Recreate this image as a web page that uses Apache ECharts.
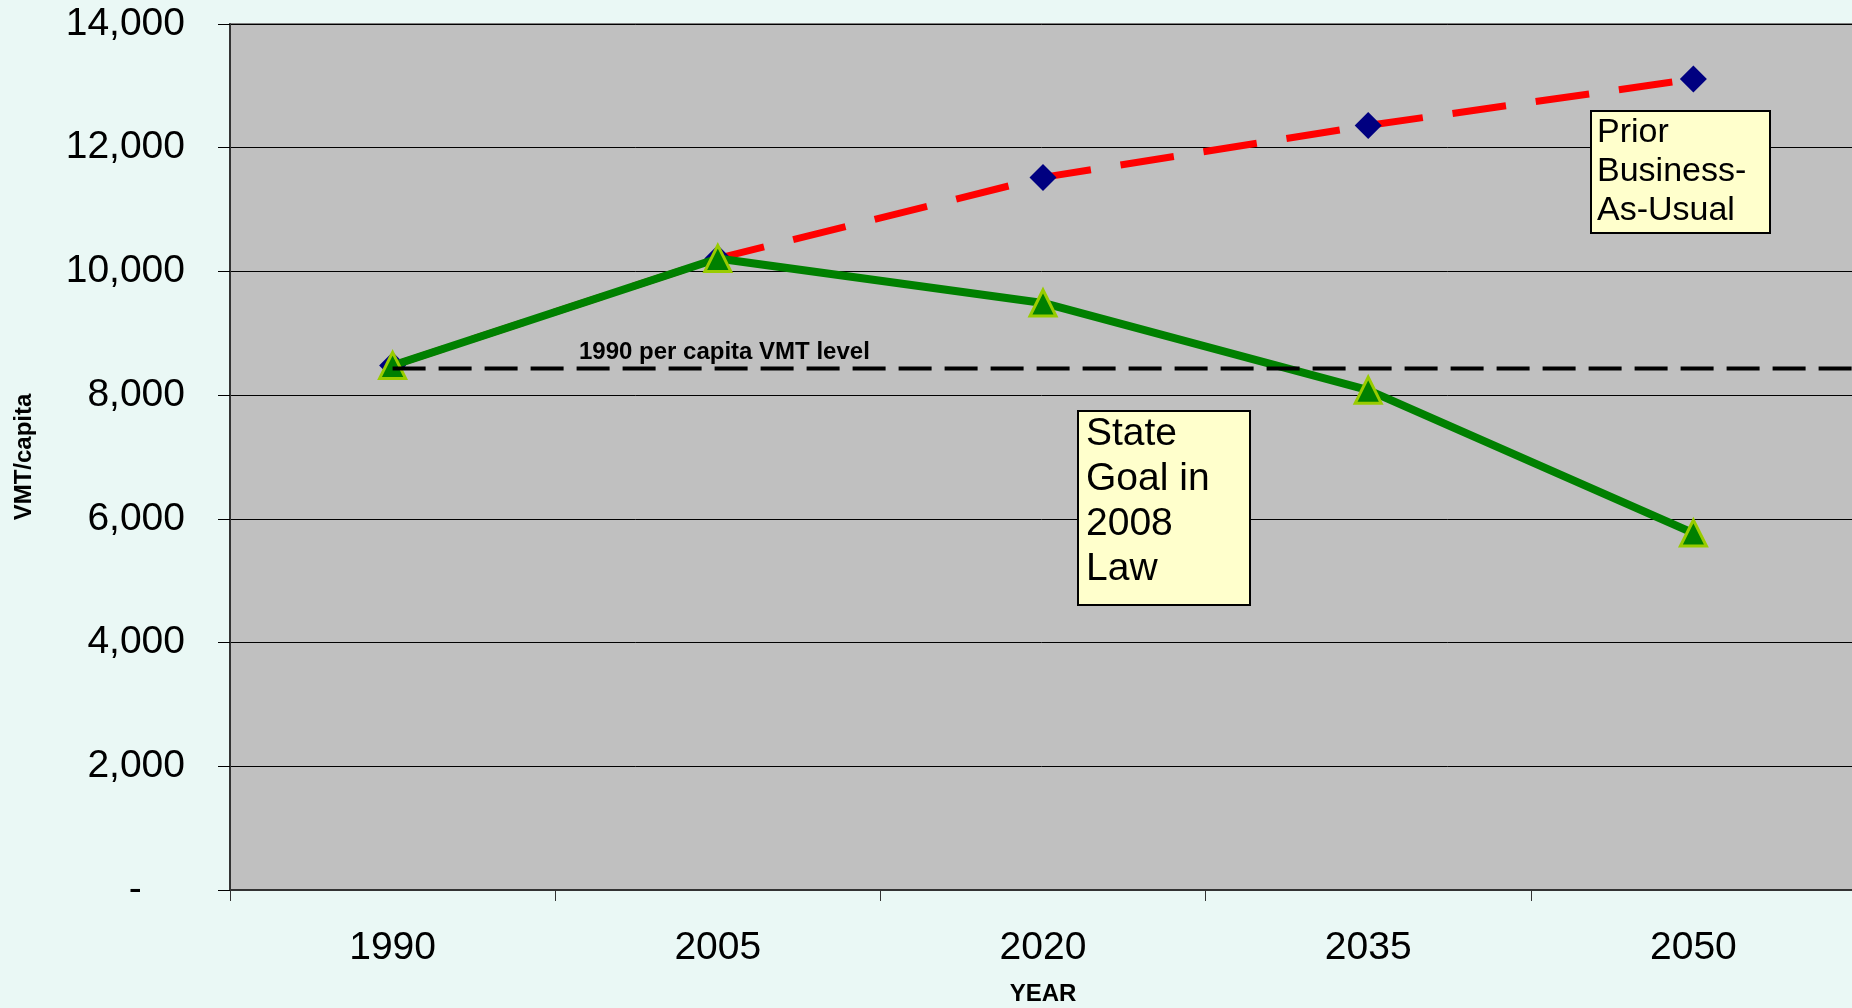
<!DOCTYPE html>
<html>
<head>
<meta charset="utf-8">
<title>VMT per capita</title>
<script src="https://cdn.jsdelivr.net/npm/echarts@6/dist/echarts.min.js"></script>
<style>
  html, body { margin: 0; padding: 0; background: #EAF8F5; }
  #chart { width: 1852px; height: 1008px; }
</style>
</head>
<body>
<div id="chart"></div>
<script>
// Years on the horizontal axis
const years = ['1990', '2005', '2020', '2035', '2050'];
// Prior business-as-usual projection of VMT per capita
const businessAsUsual = [8480, 10210, 11520, 12360, 13110];
// State goal set in the 2008 law
const stateGoal = [8480, 10210, 9490, 8080, 5770];
// 1990 per capita VMT level, drawn from the 1990 point to the right edge
const level1990 = 8430;
const level1990Span = [0.5, 5];
// Value axis ticks
const yMin = 0, yMax = 14000, yStep = 2000;

const FONT = "'Liberation Sans', Arial, sans-serif";

const chart = echarts.init(document.getElementById('chart'), null, { renderer: 'canvas' });

chart.setOption({
  animation: false,
  backgroundColor: '#EAF8F5',
  grid: {
    left: 230, top: 24, width: 1626, height: 866,
    containLabel: false,
    outerBoundsMode: 'none',
    show: true, backgroundColor: '#C0C0C0',
    borderColor: '#808080', borderWidth: 2
  },
  xAxis: [
    {
      type: 'category',
      data: years,
      boundaryGap: true,
      name: 'YEAR',
      nameLocation: 'middle',
      nameGap: 92,
      nameTextStyle: { fontFamily: FONT, fontWeight: 'bold', fontSize: 24, color: '#000' },
      axisLine: { lineStyle: { color: '#333', width: 2 } },
      axisTick: { show: true, length: 11, lineStyle: { color: '#333', width: 1 } },
      axisLabel: { fontFamily: FONT, fontSize: 39, color: '#000', margin: 39 },
      splitLine: { show: false }
    },
    {
      type: 'value',
      min: 0, max: 5,
      show: false
    }
  ],
  yAxis: {
    type: 'value',
    min: yMin, max: yMax, interval: yStep,
    name: 'VMT/capita',
    nameLocation: 'middle',
    nameGap: 194,
    nameRotate: 90,
    nameTextStyle: { fontFamily: FONT, fontWeight: 'bold', fontSize: 24, color: '#000' },
    axisLine: { show: true, lineStyle: { color: '#333', width: 2 } },
    axisTick: { show: true, length: 12, lineStyle: { color: '#000', width: 1 } },
    axisLabel: {
      fontFamily: FONT, fontSize: 39, color: '#000', margin: 45,
      formatter: v => v === 0 ? '-    ' : v.toLocaleString('en-US')
    },
    splitLine: { show: true, lineStyle: { color: '#000', width: 1 } }
  },
  series: [
    {
      name: 'Prior Business-As-Usual',
      type: 'line',
      xAxisIndex: 0,
      data: businessAsUsual,
      symbol: 'diamond',
      symbolSize: 27,
      showSymbol: true,
      itemStyle: { color: '#000080' },
      lineStyle: { color: '#FF0000', width: 7, type: [54, 30] },
      z: 2
    },
    {
      name: 'State Goal in 2008 Law',
      type: 'line',
      xAxisIndex: 0,
      data: stateGoal,
      symbol: 'triangle',
      symbolSize: 26,
      showSymbol: true,
      itemStyle: { color: '#008000', borderColor: '#99CC00', borderWidth: 3 },
      lineStyle: { color: '#008000', width: 8 },
      z: 3
    },
    {
      name: '1990 per capita VMT level',
      type: 'line',
      xAxisIndex: 1,
      data: level1990Span.map(x => [x, level1990]),
      symbol: 'none',
      lineStyle: { color: '#000', width: 4, type: [33, 13] },
      z: 4
    }
  ],
  graphic: [
    {
      type: 'text', left: 579, top: 340, z: 10,
      style: { text: '1990 per capita VMT level', font: "bold 24px " + FONT, fill: '#000' }
    },
    {
      type: 'rect', z: 10,
      shape: { x: 1591, y: 111, width: 179, height: 122 },
      style: { fill: '#FFFFCC', stroke: '#000', lineWidth: 2 }
    },
    {
      type: 'text', z: 11, x: 1597, y: 113,
      style: {
        text: 'Prior\nBusiness-\nAs-Usual',
        font: '34px ' + FONT, lineHeight: 39, fill: '#000', verticalAlign: 'top'
      }
    },
    {
      type: 'rect', z: 10,
      shape: { x: 1078, y: 411, width: 172, height: 194 },
      style: { fill: '#FFFFCC', stroke: '#000', lineWidth: 2 }
    },
    {
      type: 'text', z: 11, x: 1086, y: 412,
      style: {
        text: 'State\nGoal in\n2008\nLaw',
        font: '39px ' + FONT, lineHeight: 45, fill: '#000', verticalAlign: 'top'
      }
    }
  ]
});
</script>
</body>
</html>
